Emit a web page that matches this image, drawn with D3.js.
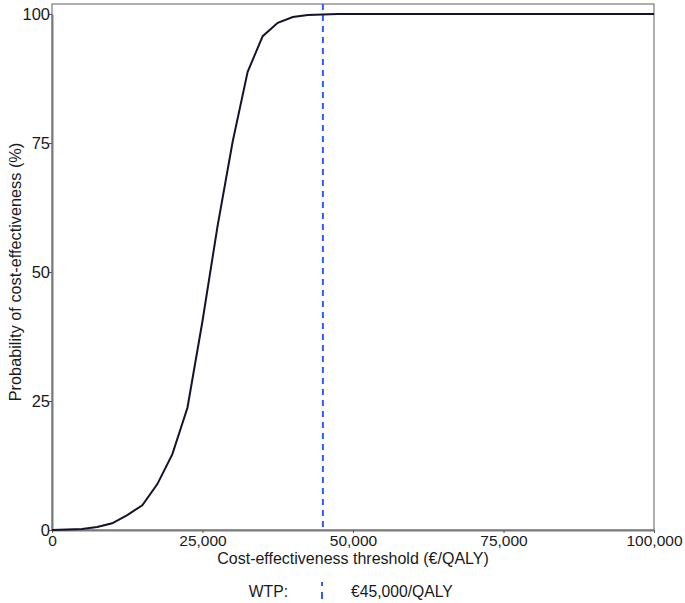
<!DOCTYPE html>
<html>
<head>
<meta charset="utf-8">
<script src="https://cdn.jsdelivr.net/npm/d3@7"></script>
<style>
  body { margin: 0; background: #fff; }
  text { font-family: "Liberation Sans", Arial, sans-serif; fill: #1a1a1a; }
</style>
</head>
<body>
<div id="chart"></div>
<script>
// thresholds (EUR/QALY) and probability of cost-effectiveness (%)
var thresholds = [0, 2500, 5000, 7500, 10000, 12500, 15000, 17500, 20000, 22500, 25000, 27500,
  30000, 32500, 35000, 37500, 40000, 42500, 45000, 47500, 50000, 60000, 70000, 80000, 90000, 100000];
var probs = [0, 0.1, 0.2, 0.6, 1.3, 2.9, 4.8, 8.9, 14.7, 23.7, 40.5, 58.9,
  75.2, 88.8, 95.7, 98.3, 99.4, 99.8, 99.9, 100, 100, 100, 100, 100, 100, 100];
var xTicks = [0, 25000, 50000, 75000, 100000];
var yTicks = [0, 25, 50, 75, 100];
var wtp = 45000;
var wtpLabel = "€45,000/QALY";

var W = 685, H = 603;
var svg = d3.select("#chart").append("svg").attr("width", W).attr("height", H);

var x = d3.scaleLinear().domain([0, 100000]).range([52, 654]);
var y = d3.scaleLinear().domain([0, 100]).range([530, 14]);

// panel border
svg.append("rect")
  .attr("x", 52).attr("y", 4)
  .attr("width", 654 - 52).attr("height", 530 - 4)
  .style("fill", "none").style("stroke", "#7a7a7a").style("stroke-width", 1.2);

var fmt = d3.format(",");

var xAxis = svg.append("g").attr("transform", "translate(0,530)")
  .call(d3.axisBottom(x).tickValues(xTicks).tickFormat(fmt).tickSize(3).tickSizeOuter(0));
var yAxis = svg.append("g").attr("transform", "translate(52,0)")
  .call(d3.axisLeft(y).tickValues(yTicks).tickSize(3).tickSizeOuter(0));

[xAxis, yAxis].forEach(function(g){
  g.select(".domain").style("stroke", "#7a7a7a").style("stroke-width", 2);
  g.selectAll(".tick line").style("stroke", "#555");
  g.selectAll("text").style("font-family", "Liberation Sans, Arial, sans-serif").style("fill", "#1a1a1a");
});
xAxis.selectAll("text").style("font-size", "15.5px").attr("dy", "0.71em").attr("y", 5);
yAxis.selectAll("text").style("font-size", "16.5px").attr("x", -2);

// WTP line
svg.append("line")
  .attr("x1", x(wtp)).attr("x2", x(wtp))
  .attr("y1", 4).attr("y2", 530)
  .style("stroke", "#2f5bff").style("stroke-width", 2)
  .style("stroke-dasharray", "6,5");

// curve
var line = d3.line()
  .x(function(d, i){ return x(thresholds[i]); })
  .y(function(d){ return y(d); });
svg.append("path").datum(probs)
  .attr("d", line)
  .style("fill", "none").style("stroke", "#13132e").style("stroke-width", 2);

// axis titles
svg.append("text")
  .attr("x", x(50000)).attr("y", 564)
  .style("text-anchor", "middle").style("font-size", "16px")
  .text("Cost-effectiveness threshold (€/QALY)");

svg.append("text")
  .attr("transform", "rotate(-90)")
  .attr("x", -y(50)).attr("y", 21)
  .style("text-anchor", "middle").style("font-size", "16.3px")
  .text("Probability of cost-effectiveness (%)");

// legend
svg.append("text")
  .attr("x", 288).attr("y", 597)
  .style("text-anchor", "end").style("font-size", "15.7px")
  .text("WTP:");
svg.append("line")
  .attr("x1", 322).attr("x2", 322)
  .attr("y1", 599).attr("y2", 582)
  .style("stroke", "#2f5bff").style("stroke-width", 2)
  .style("stroke-dasharray", "7,6");
svg.append("text")
  .attr("x", 351).attr("y", 597)
  .style("font-size", "15.7px")
  .text(wtpLabel);
</script>
</body>
</html>
